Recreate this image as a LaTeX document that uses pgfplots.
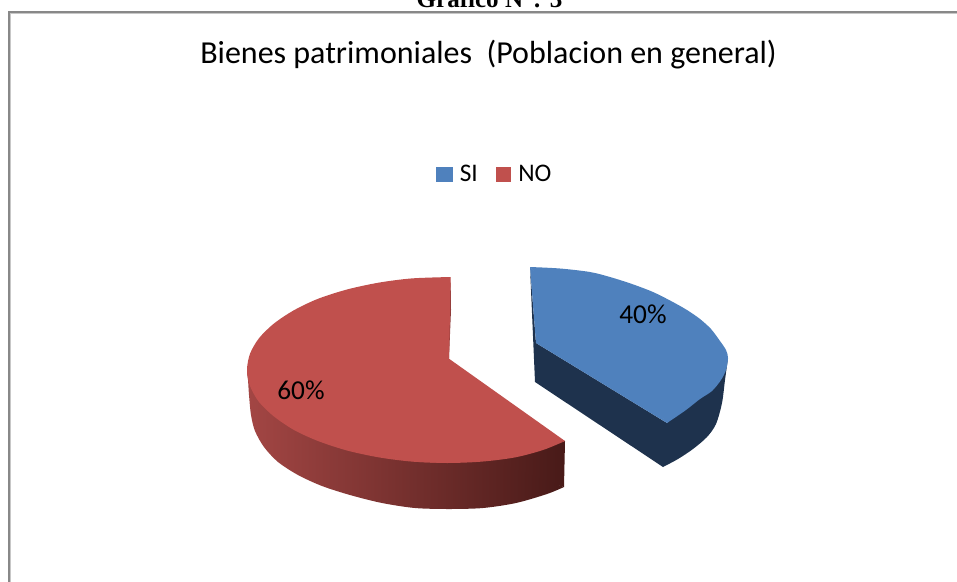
\documentclass[border=0pt]{standalone}
\usepackage{fontspec}
\usepackage{pgfplots}
\pgfplotsset{compat=1.18}
\setmainfont{Carlito}
\newfontfamily\timesbf[Ligatures=TeX]{Liberation Serif Bold}
\definecolor{siTop}{RGB}{79,129,189}
\definecolor{siSide}{RGB}{30,50,77}
\definecolor{noTop}{RGB}{192,80,77}
\definecolor{noL}{RGB}{163,70,68}
\definecolor{noR}{RGB}{72,26,24}
\definecolor{noSliver}{RGB}{143,59,57}
\definecolor{frameGray}{RGB}{136,136,136}

\begin{document}
\begin{tikzpicture}
\useasboundingbox (0,0) rectangle (717.75pt,436.5pt);
\clip (0,0) rectangle (717.75pt,436.5pt);
\begin{axis}[
    scale only axis, width=717.75pt, height=436.5pt,
    xmin=0, xmax=957, ymin=0, ymax=582, y dir=reverse,
    hide axis, clip=false,
    legend columns=2,
    legend style={at={(axis cs:495,174)},anchor=center,draw=none,fill=none,
      font=\fontsize{19}{22}\selectfont,inner sep=0pt,
      /tikz/every even column/.append style={column sep=11.5pt}},
]
  % chart frame
  \addplot[frameGray,line width=1.9pt,forget plot] coordinates {(9,582) (9,12) (957,12)};
  \addplot[black!22,line width=0.7pt,forget plot] coordinates {(10.8,582) (10.8,13.8) (957,13.8)};

  % NO slice: side wall (curved part + straight part, same shading box)
  \addplot[draw=none,shade,left color=noL,right color=noR,forget plot] coordinates {
    (247,373) (400,440) (564,487) (565,441)} --cycle;
  \addplot[draw=none,shade,left color=noL,right color=noR,smooth,forget plot] coordinates {
    (247,373) (248,380) (249,395) (251,415) (255,431) (264,447) (278,462) (298,475)
    (322,486) (350,495) (382,503) (415,508) (449,509) (483,508) (516,503) (547,494)
    (564,487)};
  \addplot[draw=none,fill=noSliver,forget plot] coordinates {
    (450.7,277) (451,310) (449,358) (448,358)} --cycle;
  % NO slice: top, arc in two pieces because of the notch
  \addplot[draw=none,fill=noTop,smooth,forget plot] coordinates {
    (450.7,277) (412,278.4) (379,282.6) (347,289.5) (318,298.8) (294,310.2) (274,323.5)
    (259,338.2) (250,353.8) (247,370) (250,386) (259,402) (274,416.5) (294,430) (318,441)
    (347,450.5) (379,457.4) (412,461.6) (447,463)};
  \addplot[draw=none,fill=noTop,smooth,forget plot] coordinates {
    (412,461.6) (447,463) (482,461.6) (515,457.4) (543,450) (565,441)};
  \addplot[draw=none,fill=noTop,forget plot] coordinates {
    (448,358) (420,459) (500,455) (565,441)} --cycle;

  % SI slice: side wall
  \addplot[draw=none,fill=siSide,forget plot] coordinates {
    (530,267) (535,382) (663,467) (695,428) (728,358) (667,423) (536,343)} --cycle;
  \addplot[draw=none,fill=siSide,smooth,forget plot] coordinates {
    (663,467) (678,459) (693,449) (707,437) (716,424) (722,403) (725,380) (728,358)};
  % SI slice: top
  \addplot[draw=none,fill=siTop,smooth,forget plot] coordinates {
    (530,267) (560,268.5) (590,272) (610,277) (632,284) (653,292) (671,301) (687,310)
    (700,319) (711,329) (720,341) (726,350) (728,358) (726,370) (721,380) (712,391)
    (700,399) (686,410) (667,423)};
  \addplot[draw=none,fill=siTop,forget plot] coordinates {
    (530,267) (600,335) (667,423) (536,343)} --cycle;

  % legend
  \addlegendimage{legend image code/.code={\fill[siTop] (-3pt,-5.2pt) rectangle (9pt,5.2pt);}}
  \addlegendentry{\hspace{3.5pt}SI}
  \addlegendimage{legend image code/.code={\fill[noTop] (-3pt,-5.2pt) rectangle (8pt,5.2pt);}}
  \addlegendentry{\hspace{3.5pt}NO}

  % texts
  \node[font=\fontsize{24}{27}\selectfont] at (axis cs:488.5,55) {Bienes patrimoniales\ \ (Poblacion en general)};
  \node[font=\fontsize{20.5}{24}\selectfont] at (axis cs:643,314) {40\%};
  \node[font=\fontsize{20.5}{24}\selectfont] at (axis cs:301,390) {60\%};
  \node[font=\timesbf\fontsize{18.8}{22}\selectfont,anchor=base] at (axis cs:489.5,7) {Gráfico N°: 3};
\end{axis}
\end{tikzpicture}
\end{document}
